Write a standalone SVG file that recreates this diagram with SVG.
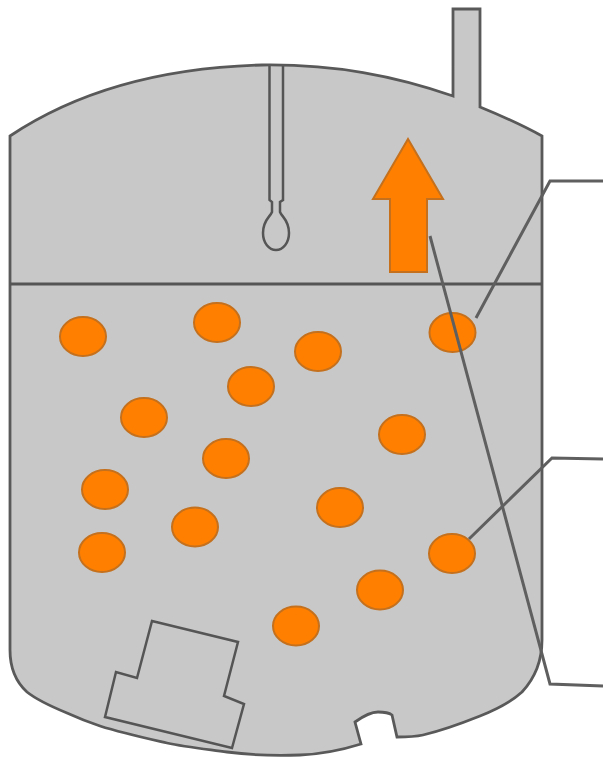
<svg xmlns="http://www.w3.org/2000/svg" width="603" height="757" viewBox="0 0 603 757">
<style>
.o{fill:none;stroke:#555;stroke-width:2.500}
.p{fill:#ff8000;stroke:#c4701c;stroke-width:2}
.c{fill:none;stroke:#5f5f5f;stroke-width:3}
</style>
<rect width="603" height="757" fill="#fff"/>
<g id="vessel">
<path d="M453 96V9H480V107C502 116 524 126 542 136V640C542 662 535 678 522 692C510 703 495 710 480 716C460 724 440 731 423 735C414 737 405 737 397 737L392 715C388 712 382 712 378 712C370 712 362 717 355 722L361 744C345 749 325 754 300 755C275 756 250 755 227 752C205 749 185 747 167 743C145 738 122 733 100 726C88 722 78 718 67 713C50 706 37 700 27 692C16 682 10 668 10 650V136C70 96 150 68 262 65C335 64 395 76 453 96Z" fill="#c8c8c8" stroke="#595959" stroke-width="2.800"/>
<path d="M10 284H542" fill="none" stroke="#555" stroke-width="3"/>
</g>
<g id="thermowell">
<path class="o" d="M269.500 66V200L272 202V212C270 217 263 220 263 233C263 243 269 250 276 250C283 250 289 243 289 233C289 220 282 217 280 212V202L283 200V66"/>
</g>
<g id="block">
<path class="o" d="M152 621L238 642L224 696L244 704L232 748L105 717L116 672L137 678Z"/>
</g>
<g id="arrow">
<path class="p" d="M408 139L443 199H427V272H390V199H373Z"/>
</g>
<g id="bubbles">
<ellipse class="p" cx="83" cy="336.500" rx="23" ry="19.500"/>
<ellipse class="p" cx="217" cy="322.500" rx="23" ry="19.500"/>
<ellipse class="p" cx="318" cy="351.500" rx="23" ry="19.500"/>
<ellipse class="p" cx="452.500" cy="332.500" rx="23" ry="19.500"/>
<ellipse class="p" cx="251" cy="386.500" rx="23" ry="19.500"/>
<ellipse class="p" cx="144" cy="417.500" rx="23" ry="19.500"/>
<ellipse class="p" cx="402" cy="434.500" rx="23" ry="19.500"/>
<ellipse class="p" cx="226" cy="458.500" rx="23" ry="19.500"/>
<ellipse class="p" cx="105" cy="489.500" rx="23" ry="19.500"/>
<ellipse class="p" cx="340" cy="507.500" rx="23" ry="19.500"/>
<ellipse class="p" cx="195" cy="527" rx="23" ry="19.500"/>
<ellipse class="p" cx="102" cy="552.500" rx="23" ry="19.500"/>
<ellipse class="p" cx="452" cy="553.500" rx="23" ry="19.500"/>
<ellipse class="p" cx="380" cy="590" rx="23" ry="19.500"/>
<ellipse class="p" cx="296" cy="626" rx="23" ry="19.500"/>
</g>
<g id="connectors">
<path class="c" d="M476 318L550 181H603"/>
<path class="c" d="M469 539L552 458L603 459"/>
<path class="c" d="M430 236L550 684L603 686"/>
</g>
</svg>
